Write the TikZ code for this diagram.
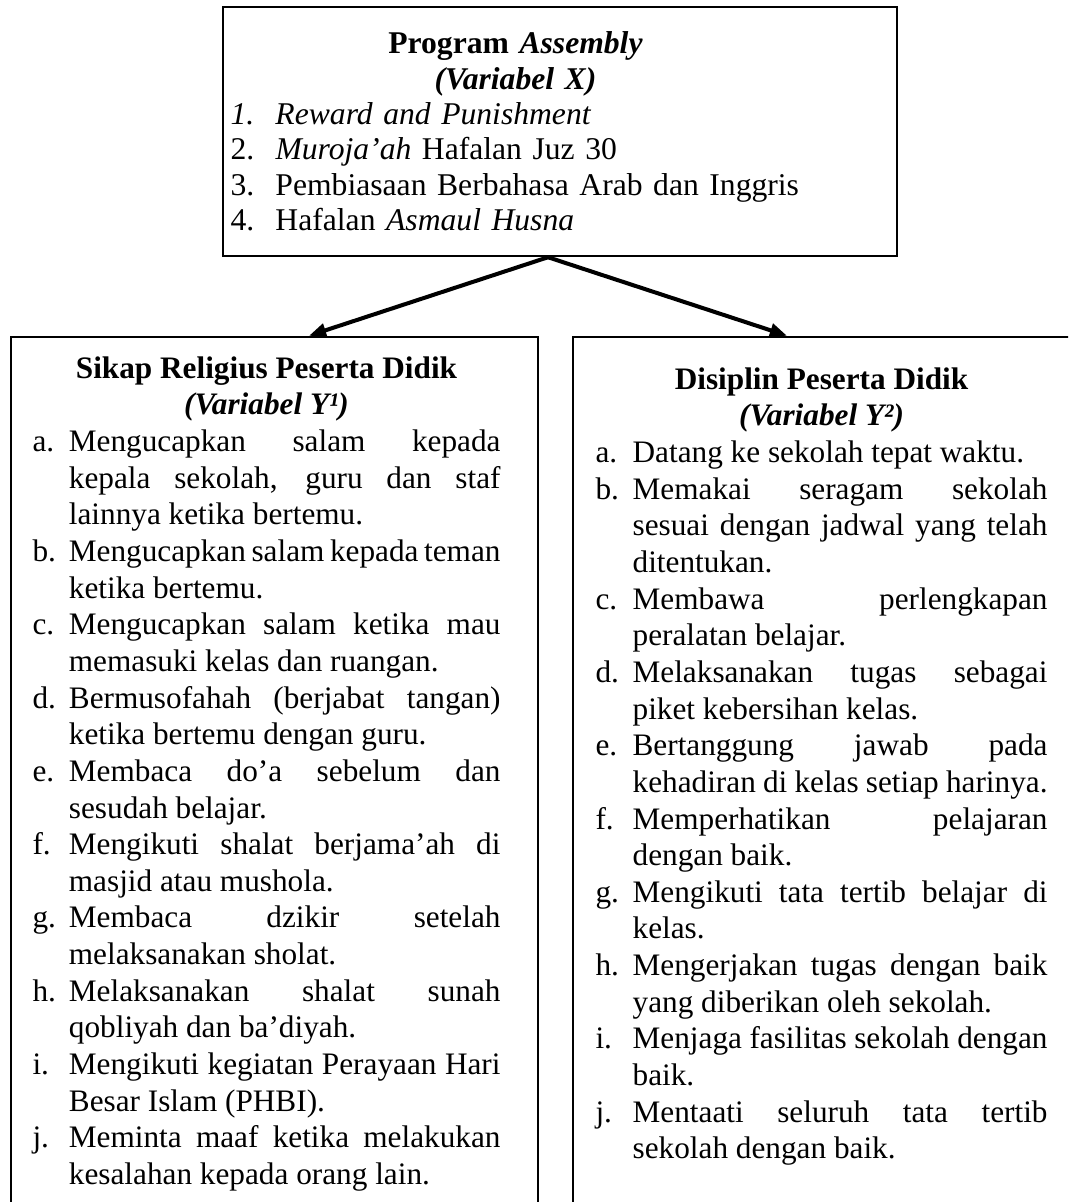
\documentclass[tikz,border=0pt]{standalone}
\usepackage{fontspec}
\setmainfont{Liberation Serif}
\usetikzlibrary{arrows.meta,positioning}

% item with hanging label
\newcommand{\butir}[3][5.1mm]{\par\noindent\hangindent=#1\hangafter=1
  \makebox[#1][l]{#2}#3\par}

\begin{document}
\begin{tikzpicture}[
  frame/.style={draw,line width=1pt,inner sep=0pt},
  conn/.style={line width=1.6pt,line cap=round,-{Triangle[length=2.4mm,width=1.9mm]}},
  isi/.style={inner sep=0pt,anchor=north west,align=justify,
    font=\fontsize{12.45}{14.6}\selectfont}]
 %\draw[color=gray,step=1mm, help lines,opacity=0.3] (0mm,0mm) grid (150mm,169mm); %help grids
 \path[use as bounding box] (0mm,0mm) rectangle (149.52mm,168.28mm);
 \clip (0mm,0mm) rectangle (149.52mm,168.28mm);
 % boxes
 \node[frame,minimum width=94.36mm,minimum height=34.86mm] (boxX) at (78.40mm,149.87mm) {};
 \node[frame,minimum width=73.78mm,minimum height=125.1mm] (boxRel) at (38.43mm,58.55mm) {};
 \node[frame,minimum width=73.78mm,minimum height=125.1mm] (boxDis) at (117.11mm,58.55mm) {};
 % arrows
 \coordinate (apex) at ([xshift=-1.68mm]boxX.south);
 \draw[conn] (apex) -- ([xshift=4.83mm]boxRel.north);
 \draw[conn] (apex) -- ([xshift=-6.93mm]boxDis.north);
 % texts
 \node[isi,align=left,text width=79.8mm,font=\fontsize{12.6}{14.1}\selectfont] (txtX) at (32.2mm,163.9mm) {%
   {\centering\bfseries Program \textit{Assembly}\par \textit{(Variabel X)}\par}
   \butir[6.3mm]{\textit{1.}}{\textit{Reward and Punishment}}
   \butir[6.3mm]{2.}{\textit{Muroja’ah} Hafalan Juz 30}
   \butir[6.3mm]{3.}{Pembiasaan Berbahasa Arab dan Inggris}
   \butir[6.3mm]{4.}{Hafalan \textit{Asmaul Husna}}};
 \node[isi,text width=65.52mm] (txtRel) at (4.48mm,118.44mm) {%
   {\centering\bfseries Sikap Religius Peserta Didik\par \textit{(Variabel Y¹)}\par}
   \butir{a.}{Mengucapkan salam kepada\linebreak kepala sekolah, guru dan staf\linebreak lainnya ketika bertemu.}
   \butir{b.}{Mengucapkan salam kepada teman\linebreak ketika bertemu.}
   \butir{c.}{Mengucapkan salam ketika mau\linebreak memasuki kelas dan ruangan.}
   \butir{d.}{Bermusofahah (berjabat tangan)\linebreak ketika bertemu dengan guru.}
   \butir{e.}{Membaca do’a sebelum dan\linebreak sesudah belajar.}
   \butir{f.}{Mengikuti shalat berjama’ah di\linebreak masjid atau mushola.}
   \butir{g.}{Membaca dzikir setelah\linebreak melaksanakan sholat.}
   \butir{h.}{Melaksanakan shalat sunah\linebreak qobliyah dan ba’diyah.}
   \butir{i.}{Mengikuti kegiatan Perayaan Hari\linebreak Besar Islam (PHBI).}
   \butir{j.}{Meminta maaf ketika melakukan\linebreak kesalahan kepada orang lain.}};
 \node[isi,text width=63.28mm] (txtDis) at (83.3mm,116.9mm) {%
   {\centering\bfseries Disiplin Peserta Didik\par \textit{(Variabel Y²)}\par}
   \butir[5.2mm]{a.}{Datang ke sekolah tepat waktu.}
   \butir[5.2mm]{b.}{Memakai seragam sekolah\linebreak sesuai dengan jadwal yang telah\linebreak ditentukan.}
   \butir[5.2mm]{c.}{Membawa perlengkapan\linebreak peralatan belajar.}
   \butir[5.2mm]{d.}{Melaksanakan tugas sebagai\linebreak piket kebersihan kelas.}
   \butir[5.2mm]{e.}{Bertanggung jawab pada\linebreak kehadiran di kelas setiap harinya.}
   \butir[5.2mm]{f.}{Memperhatikan pelajaran\linebreak dengan baik.}
   \butir[5.2mm]{g.}{Mengikuti tata tertib belajar di\linebreak kelas.}
   \butir[5.2mm]{h.}{Mengerjakan tugas dengan baik\linebreak yang diberikan oleh sekolah.}
   \butir[5.2mm]{i.}{Menjaga fasilitas sekolah dengan\linebreak baik.}
   \butir[5.2mm]{j.}{Mentaati seluruh tata tertib\linebreak sekolah dengan baik.}};
\end{tikzpicture}
\end{document}
